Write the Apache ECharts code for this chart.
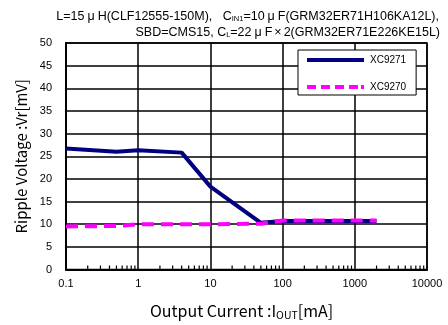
<!DOCTYPE html>
<html><head><meta charset="utf-8">
<script src="https://cdn.jsdelivr.net/npm/echarts@6/dist/echarts.min.js"></script>
<style>html,body{margin:0;padding:0;background:#fff}#c{width:448px;height:325px}</style>
</head><body><div id="c"></div>
<script>
var currents = [0.1, 0.5, 1, 4, 10, 50, 100, 2000];
var xc9271 = [26.7, 26.0, 26.3, 25.8, 18.3, 10.3, 10.7, 10.7];
var xc9270 = [9.5, 9.6, 10.0, 10.0, 10.0, 10.1, 10.8, 10.8];
var seriesNames = ['XC9271', 'XC9270'];
var minorTicks = [];
[0.1, 1, 10, 100, 1000].forEach(function (d) {
  [2, 3, 4, 5, 6, 7, 8, 9].forEach(function (m) { minorTicks.push(+(d * m).toPrecision(3)); });
});

function pairs(xs, ys) { return xs.map(function (x, i) { return [x, ys[i]]; }); }

var chart = echarts.init(document.getElementById('c'));
var base = '"Liberation Sans", Arial, sans-serif';
var jfont = '"Noto Sans CJK JP", sans-serif';
var titleStyle = { fontFamily: base, fontSize: 12.5, fontWeight: 'normal', color: '#000',
  rich: {
    s: { fontSize: 7.5, fontFamily: base, verticalAlign: 'bottom', padding: [4, 0, 0, 0] },
    u: { fontSize: 12.5, fontFamily: base, padding: [0, 3, 0, 3] },
    x: { fontSize: 12.5, fontFamily: base, padding: [0, 2, 0, 2] }
  } };
var solidIcon = 'path://M0,0H57V4H0Z';
var dashIcon = 'path://M0,0H9V4H0ZM14,0H23V4H14ZM28,0H37V4H28ZM42,0H51V4H42ZM54,0H57V4H54Z';
chart.setOption({
  animation: false,
  title: [
    { text: 'L=15{u|μ}H(CLF12555-150M),   C{s|IN1}=10{u|μ}F(GRM32ER71H106KA12L),', right: 4, top: 5, textStyle: titleStyle },
    { text: 'SBD=CMS15, C{s|L}=22{u|μ}F{x|×}2(GRM32ER71E226KE15L)', right: 3, top: 21, textStyle: titleStyle }
  ],
  grid: { left: 66, right: 21, top: 43, bottom: 54, show: true, borderColor: '#000', borderWidth: 1.5, backgroundColor: 'transparent' },
  legend: {
    orient: 'vertical', left: 298, top: 50,
    data: [{ name: seriesNames[0], icon: solidIcon }, { name: seriesNames[1], icon: dashIcon }],
    itemWidth: 57, itemHeight: 4, itemGap: 17,
    padding: [5, 10, 3, 9],
    backgroundColor: '#fff', borderColor: '#000', borderWidth: 1,
    textStyle: { fontFamily: base, fontSize: 10, color: '#000', padding: [0, 0, 0, 1] }
  },
  xAxis: {
    type: 'log', logBase: 10, min: 0.1, max: 10000,
    name: 'Output Current :I{s|OUT}[mA]', nameLocation: 'middle', nameGap: 32,
    nameTextStyle: { fontFamily: jfont, fontSize: 16, color: '#000', padding: [0, 0, 0, -10],
      rich: { s: { fontSize: 10.5, fontFamily: jfont, verticalAlign: 'bottom', padding: [8, 0, 0, 0] } } },
    axisLine: { lineStyle: { color: '#000', width: 2 } },
    axisTick: { show: false },
    axisLabel: { fontFamily: base, fontSize: 11, color: '#000', margin: 9,
      formatter: function (v) { return String(+v.toPrecision(3)); } },
    splitLine: { show: true, lineStyle: { color: '#000', width: 1.5 } }
  },
  yAxis: {
    type: 'value', min: 0, max: 50, interval: 5,
    name: 'Ripple Voltage :Vr[mV]', nameLocation: 'middle', nameGap: 29,
    nameTextStyle: { fontFamily: jfont, fontSize: 15, color: '#000' },
    axisLine: { lineStyle: { color: '#000', width: 2 } },
    axisTick: { show: false },
    axisLabel: { fontFamily: base, fontSize: 11, color: '#000', margin: 14 },
    splitLine: { show: true, lineStyle: { color: '#000', width: 1.5 } }
  },
  series: [
    { name: seriesNames[0], type: 'line', data: pairs(currents, xc9271), symbol: 'none',
      lineStyle: { color: '#000080', width: 4 }, itemStyle: { color: '#000080' }, z: 3 },
    { name: seriesNames[1], type: 'line', data: pairs(currents, xc9270), symbol: 'none',
      lineStyle: { color: '#ff00ff', width: 4, type: [12, 7] }, itemStyle: { color: '#ff00ff' }, z: 4 },
    { type: 'custom', silent: true, z: 5, data: minorTicks.map(function (v) { return [v, 0]; }),
      renderItem: function (params, api) {
        var p = api.coord([api.value(0), 0]);
        return { type: 'line', shape: { x1: p[0], y1: p[1], x2: p[0], y2: p[1] - 4 },
          style: { stroke: '#000', lineWidth: 1.2 } };
      } }
  ]
});
</script></body></html>
